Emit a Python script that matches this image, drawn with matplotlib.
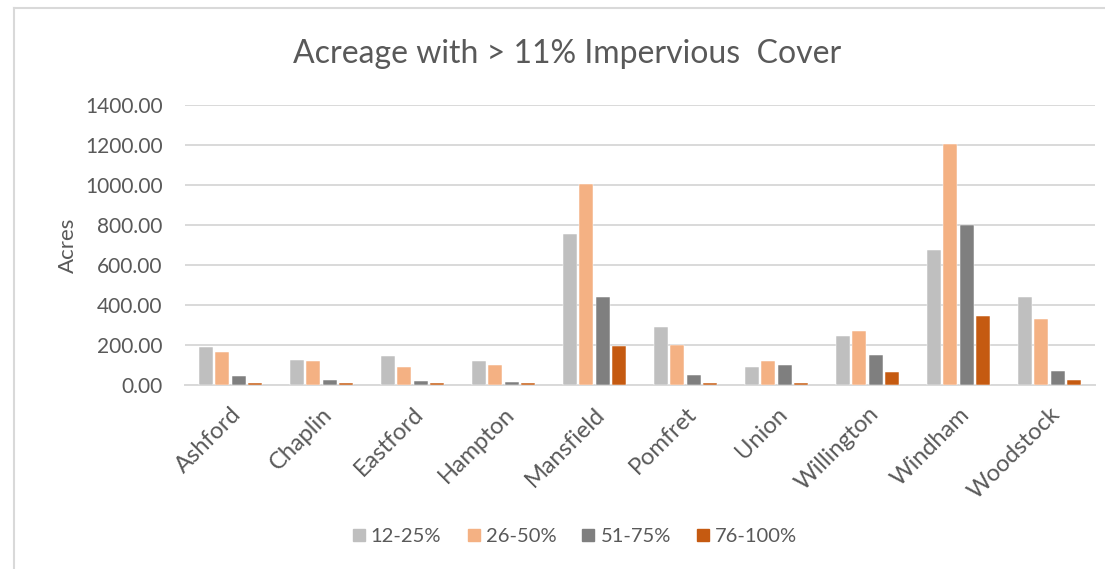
import matplotlib.pyplot as plt
import numpy as np
from matplotlib.lines import Line2D

towns = ["Ashford", "Chaplin", "Eastford", "Hampton", "Mansfield",
         "Pomfret", "Union", "Willington", "Windham", "Woodstock"]
classes = ["12-25%", "26-50%", "51-75%", "76-100%"]

cover_12_25 = [190, 127, 145, 120, 755, 290, 90, 245, 678, 440]
cover_26_50 = [165, 120, 90, 101, 1005, 200, 120, 272, 1208, 333]
cover_51_75 = [45, 27, 22, 15, 440, 50, 100, 152, 800, 70]
cover_76_100 = [10, 10, 10, 10, 196, 14, 10, 65, 347, 25]

series = [cover_12_25, cover_26_50, cover_51_75, cover_76_100]
colors = ["#BFBFBF", "#F4B183", "#7F7F7F", "#C55A11"]
text_c = "#595959"
font = ["Lato", "DejaVu Sans"]

plt.rcParams["font.family"] = font

fig = plt.figure(figsize=(11.05, 5.69), dpi=100)
ax = fig.add_axes([185 / 1105, 1 - 385.3 / 569, 910 / 1105, 280 / 569])

x = np.arange(len(towns))
step = 0.18
for i, (vals, c) in enumerate(zip(series, colors)):
    ax.bar(x + (i - 1.5) * step, vals, width=0.158, color=c,
           edgecolor="white", linewidth=0.35, label=classes[i], zorder=3)

ax.set_xlim(-0.5, len(towns) - 0.5)
ax.set_ylim(0, 1400)
ax.set_yticks(np.arange(0, 1401, 200))
ax.set_yticklabels([f"{v:.2f}" for v in np.arange(0, 1401, 200)])
ax.grid(axis="y", color="#D9D9D9", linewidth=1.4, zorder=0)
for s in ["top", "right", "left"]:
    ax.spines[s].set_visible(False)
ax.spines["bottom"].set_color("#D9D9D9")
ax.spines["bottom"].set_linewidth(1.4)

ax.tick_params(axis="y", length=0, pad=16, labelsize=15, labelcolor=text_c)
ax.tick_params(axis="x", length=0, pad=13, labelsize=17, labelcolor=text_c)
ax.set_xticks(x)
ax.set_xticklabels(towns, rotation=45, ha="right", va="top",
                   rotation_mode="anchor")

ax.set_ylabel("Acres", fontsize=16, color=text_c, labelpad=5)

fig.text(0.513, 1 - 54 / 569, "Acreage with > 11% Impervious  Cover",
         ha="center", va="center", fontsize=23, color=text_c)

handles = [Line2D([], [], marker="s", linestyle="none", markersize=9,
                  markerfacecolor=c, markeredgecolor=c) for c in colors]
fig.legend(handles, classes, loc="center", bbox_to_anchor=(573 / 1105, 1 - 536 / 569),
           ncol=4, frameon=False, fontsize=14.5, labelcolor=text_c,
           handletextpad=0.1, columnspacing=1.1, handlelength=1.0)

# chart area outline
fig.add_artist(Line2D([14 / 1105, 14 / 1105], [0, 1 - 8 / 569],
                      transform=fig.transFigure, color="#D9D9D9", linewidth=1.5))
fig.add_artist(Line2D([14 / 1105, 1], [1 - 8 / 569, 1 - 8 / 569],
                      transform=fig.transFigure, color="#D9D9D9", linewidth=1.5))

fig.savefig("out.png", dpi=100)
